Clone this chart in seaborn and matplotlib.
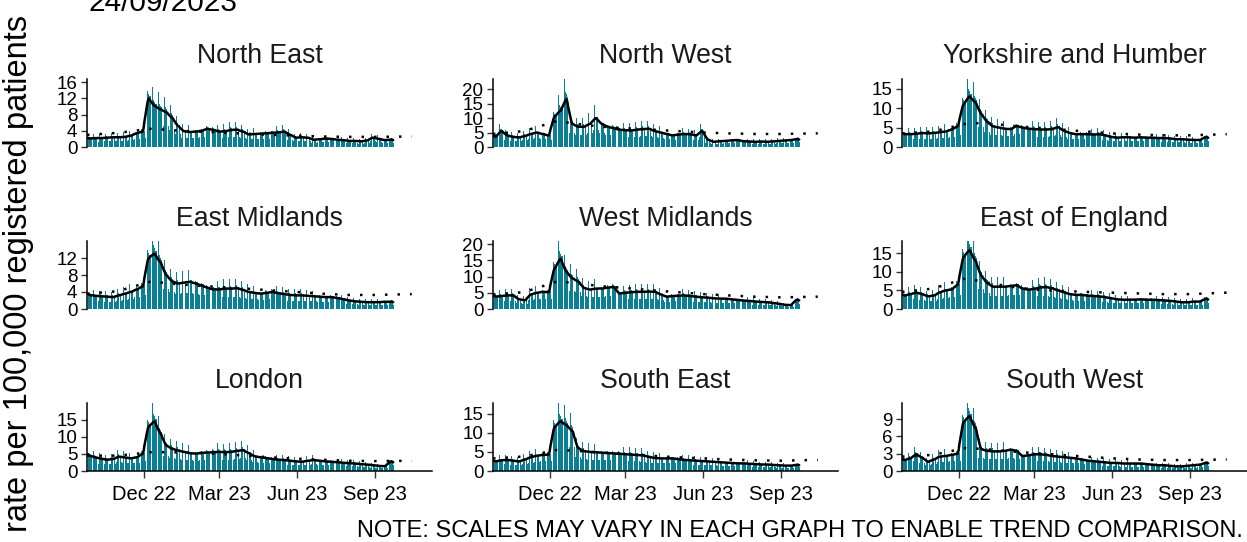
import numpy as np
import pandas as pd
import matplotlib
matplotlib.use("Agg")
import matplotlib.pyplot as plt
import matplotlib.dates as mdates
import seaborn as sns

sns.set_theme(style="white")
plt.rcParams["font.family"] = ["Liberation Sans", "DejaVu Sans"]

# ---------------------------------------------------------------------------
# Data: weekly average daily rate per 100,000 (weeks starting Sunday 25/09/2022)
# ---------------------------------------------------------------------------
regions = ["North East", "North West", "Yorkshire and Humber",
           "East Midlands", "West Midlands", "East of England",
           "London", "South East", "South West"]

weekly_north_east = [2.1, 2.2, 2.2, 2.3, 2.4, 2.4, 2.5, 2.8, 3.4, 3.8,
                     12.0, 10.2, 9.3, 8.6, 7.2, 5.2, 3.9, 3.7, 3.8, 4.0,
                     4.5, 4.2, 3.8, 3.9, 4.2, 4.3, 3.8, 3.1, 3.2, 3.3,
                     3.4, 3.5, 3.6, 3.8, 3.0, 2.3, 2.4, 2.3, 1.8, 1.9,
                     2.1, 2.0, 1.8, 1.7, 1.5, 1.5, 1.4, 1.6, 2.3, 2.0,
                     1.7, 1.8]
weekly_north_west = [3.5, 5.5, 4.0, 3.5, 3.3, 3.8, 4.5, 5.0, 4.5, 4.0,
                     10.5, 12.5, 16.5, 8.0, 7.0, 7.0, 8.0, 10.0, 8.0, 7.0,
                     6.5, 6.0, 5.8, 5.7, 6.0, 6.2, 6.3, 5.5, 5.0, 4.5,
                     4.0, 4.3, 4.5, 4.4, 4.0, 5.5, 2.5, 1.8, 2.0, 2.1,
                     2.3, 2.4, 2.0, 1.9, 1.8, 1.9, 1.8, 1.9, 2.1, 2.2,
                     2.4, 2.7]
weekly_yorkshire = [3.3, 3.3, 3.4, 3.6, 3.5, 3.6, 3.8, 4.0, 4.5, 5.3,
                    11.0, 13.0, 11.5, 8.5, 6.5, 5.3, 5.0, 4.7, 4.6, 5.4,
                    5.0, 4.7, 4.6, 4.5, 4.5, 4.6, 5.1, 4.2, 3.6, 3.3,
                    3.3, 3.3, 3.2, 3.3, 3.0, 2.6, 2.4, 2.5, 2.5, 2.4,
                    2.5, 2.4, 2.4, 2.3, 2.3, 2.2, 2.0, 2.0, 1.9, 1.8,
                    1.8, 2.5]
weekly_east_midlands = [3.3, 3.1, 3.0, 2.9, 2.8, 3.2, 3.6, 4.0, 4.6, 5.3,
                        12.0, 13.0, 11.0, 8.0, 6.5, 6.0, 6.2, 6.4, 6.0, 5.5,
                        5.0, 4.6, 4.6, 4.8, 4.8, 4.9, 4.5, 4.0, 3.8, 3.6,
                        3.8, 4.0, 3.7, 3.5, 3.3, 3.2, 3.2, 3.1, 3.0, 2.9,
                        2.8, 2.8, 2.6, 2.3, 2.0, 1.8, 1.7, 1.6, 1.6, 1.6,
                        1.7, 1.7]
weekly_west_midlands = [3.8, 4.0, 4.2, 4.2, 3.0, 2.7, 4.5, 5.0, 5.3, 5.2,
                        12.5, 15.5, 11.5, 9.5, 8.5, 6.5, 6.0, 6.3, 6.3, 6.6,
                        6.8, 4.8, 5.0, 5.2, 5.3, 5.3, 5.4, 5.3, 4.5, 3.8,
                        4.0, 4.1, 4.2, 4.0, 3.8, 3.6, 3.5, 3.3, 3.2, 3.2,
                        3.0, 2.8, 2.6, 2.5, 2.3, 2.2, 2.1, 1.9, 1.6, 1.3,
                        1.2, 2.8]
weekly_east_of_england = [3.6, 4.0, 4.4, 4.0, 3.4, 3.6, 4.5, 5.0, 5.3, 6.5,
                          14.0, 15.8, 13.0, 9.0, 7.0, 6.0, 6.0, 6.0, 6.2, 6.4,
                          5.5, 5.2, 5.4, 5.8, 5.9, 5.6, 5.0, 4.5, 4.0, 3.8,
                          3.8, 3.6, 3.5, 3.4, 3.2, 2.9, 2.6, 2.5, 2.5, 2.5,
                          2.6, 2.5, 2.5, 2.4, 2.3, 2.2, 2.0, 1.8, 1.8, 2.0,
                          2.0, 2.7]
weekly_london = [4.5, 4.0, 3.6, 3.3, 3.5, 4.2, 4.0, 3.7, 4.0, 5.0,
                 13.0, 14.5, 11.0, 7.5, 6.5, 6.0, 5.6, 5.2, 5.1, 5.3,
                 5.4, 5.5, 5.6, 5.5, 5.6, 5.9, 6.1, 5.2, 4.3, 4.0,
                 3.8, 3.5, 3.3, 3.2, 3.0, 2.8, 2.7, 3.0, 3.2, 3.0,
                 2.8, 2.7, 2.6, 2.4, 2.3, 2.2, 2.0, 1.9, 1.7, 1.5,
                 1.4, 2.7]
weekly_south_east = [2.5, 2.8, 2.9, 2.7, 2.5, 3.0, 3.6, 4.0, 4.2, 4.3,
                     11.5, 13.0, 12.0, 10.5, 6.0, 5.2, 5.0, 4.9, 4.8, 4.7,
                     4.6, 4.5, 4.4, 4.3, 4.2, 4.1, 3.7, 3.4, 3.3, 3.3,
                     3.3, 3.1, 2.9, 2.8, 2.7, 2.6, 2.5, 2.4, 2.3, 2.2,
                     2.1, 2.0, 2.0, 1.9, 1.8, 1.7, 1.7, 1.6, 1.5, 1.4,
                     1.4, 1.6]
weekly_south_west = [1.9, 2.2, 2.9, 2.3, 1.6, 2.0, 2.5, 2.6, 2.8, 3.0,
                     8.5, 9.5, 7.5, 3.8, 3.5, 3.4, 3.4, 3.5, 3.7, 3.5,
                     2.6, 2.7, 2.9, 2.9, 2.8, 2.6, 2.5, 2.4, 2.3, 2.2,
                     2.0, 1.8, 1.7, 1.6, 1.5, 1.4, 1.4, 1.3, 1.3, 1.3,
                     1.3, 1.2, 1.1, 1.0, 1.0, 0.9, 0.8, 0.8, 0.9, 1.0,
                     1.1, 1.4]

# relative level of each weekday (Mon..Sun), averaging to 1
weekday_profile = [1.45, 1.15, 1.10, 1.05, 1.05, 0.60, 0.60]

# baseline (dotted line), monthly points
baseline_dates = ["2022-09-25", "2022-11-01", "2022-12-10", "2023-01-01",
                  "2023-02-01", "2023-03-01", "2023-04-01", "2023-05-01",
                  "2023-06-01", "2023-07-01", "2023-08-01", "2023-09-01",
                  "2023-10-15"]
baseline_north_east = [3.0, 3.5, 4.5, 4.2, 3.8, 3.6, 3.3, 3.0, 2.8, 2.6, 2.5, 2.5, 2.6]
baseline_north_west = [4.5, 5.5, 9.0, 8.0, 7.0, 6.5, 6.0, 5.5, 5.0, 4.7, 4.5, 4.5, 4.7]
baseline_yorkshire = [3.5, 4.0, 6.0, 6.2, 5.5, 5.0, 4.5, 4.0, 3.5, 3.2, 3.0, 3.0, 3.3]
baseline_east_midlands = [3.6, 4.2, 6.5, 6.0, 5.5, 5.2, 4.8, 4.4, 4.0, 3.6, 3.3, 3.3, 3.5]
baseline_west_midlands = [4.5, 5.2, 8.5, 8.0, 7.0, 6.5, 5.8, 5.2, 4.6, 4.2, 3.8, 3.6, 3.8]
baseline_east_of_england = [4.6, 5.5, 8.3, 7.2, 6.0, 5.2, 4.9, 4.6, 4.4, 4.2, 4.0, 4.0, 4.4]
baseline_london = [4.5, 4.5, 5.5, 5.5, 5.3, 5.0, 4.5, 4.0, 3.6, 3.3, 3.0, 2.9, 3.0]
baseline_south_east = [3.3, 3.8, 5.5, 5.3, 4.8, 4.4, 4.0, 3.6, 3.3, 3.0, 2.8, 2.7, 2.9]
baseline_south_west = [2.5, 2.8, 4.0, 3.8, 3.4, 3.1, 2.8, 2.5, 2.2, 2.0, 1.9, 1.9, 2.0]

weekly = [weekly_north_east, weekly_north_west, weekly_yorkshire,
          weekly_east_midlands, weekly_west_midlands, weekly_east_of_england,
          weekly_london, weekly_south_east, weekly_south_west]
baselines = [baseline_north_east, baseline_north_west, baseline_yorkshire,
             baseline_east_midlands, baseline_west_midlands, baseline_east_of_england,
             baseline_london, baseline_south_east, baseline_south_west]

y_ticks = [[0, 4, 8, 12, 16], [0, 5, 10, 15, 20], [0, 5, 10, 15],
           [0, 4, 8, 12], [0, 5, 10, 15, 20], [0, 5, 10, 15],
           [0, 5, 10, 15], [0, 5, 10, 15], [0, 3, 6, 9]]
y_top = [16.8, 23.5, 17.5, 16.0, 21.0, 18.3, 19.9, 17.8, 11.8]

x_ticks = ["2022-12-01", "2023-03-01", "2023-06-01", "2023-09-01"]
report_date = "24/09/2023"

# ---------------------------------------------------------------------------
# Figure
# ---------------------------------------------------------------------------
W, H = 1247, 542
fig = plt.figure(figsize=(W / 100, H / 100), dpi=100)

bar_colour = "#0b7f93"
start = pd.Timestamp("2022-09-25")
x_min, x_max = pd.Timestamp("2022-09-25"), pd.Timestamp("2023-11-08")

col_left = [87, 493, 902]
panel_w = 345
row_top = [79, 241, 403]
panel_h = 68
title_base = [63, 225.5, 388]

for i, region in enumerate(regions):
    r, c = divmod(i, 3)
    ax = fig.add_axes([col_left[c] / W, 1 - (row_top[r] + panel_h) / H,
                       panel_w / W, panel_h / H])

    wk = np.asarray(weekly[i])
    days = pd.date_range(start, periods=len(wk) * 7, freq="D")
    prof = np.asarray(weekday_profile)[days.dayofweek]
    daily = np.repeat(wk, 7) * prof
    df = pd.DataFrame({"date": days, "rate": daily})
    df["avg"] = df["rate"].rolling(7, center=True, min_periods=4).mean()

    ax.bar(df["date"], df["rate"], width=0.8, color=bar_colour,
           linewidth=0, zorder=1)
    sns.lineplot(data=df, x="date", y="avg", ax=ax, color="black",
                 linewidth=1.8, zorder=3)
    bdf = pd.DataFrame({"date": pd.to_datetime(baseline_dates),
                        "base": baselines[i]})
    sns.lineplot(data=bdf, x="date", y="base", ax=ax, color="black",
                 linewidth=1.8, linestyle=(0, (1, 4)), zorder=2)

    ax.set_xlim(x_min, x_max)
    ax.set_ylim(0, y_top[i])
    ax.set_yticks(y_ticks[i])
    ax.set_yticklabels([str(t) for t in y_ticks[i]], fontsize=13.5)
    ax.set_xlabel("")
    ax.set_ylabel("")
    ax.set_facecolor("none")

    for s in ["top", "right"]:
        ax.spines[s].set_visible(False)
    ax.spines["left"].set_color("black")
    ax.spines["left"].set_linewidth(1.1)
    ax.tick_params(axis="y", left=True, length=4, width=1.0, color="#333333",
                   pad=3, labelcolor="black")

    xt = pd.to_datetime(x_ticks)
    if r == 2:
        ax.spines["bottom"].set_color("black")
        ax.spines["bottom"].set_linewidth(1.1)
        ax.set_xticks(xt)
        ax.xaxis.set_major_formatter(mdates.DateFormatter("%b %y"))
        ax.tick_params(axis="x", bottom=True, length=5, width=1.0,
                       color="#333333", labelsize=14.5, pad=5,
                       labelcolor="black")
    else:
        ax.spines["bottom"].set_visible(False)
        ax.set_xticks([])

    fig.text((col_left[c] + panel_w / 2) / W, 1 - title_base[r] / H, region,
             ha="center", va="baseline", fontsize=19.2, color="#1a1a1a")

fig.text(19 / W, 1 - 273 / H, "rate per 100,000 registered patients",
         rotation=90, ha="center", va="center", fontsize=23.5, color="black")
fig.text(88 / W, 1 - 11 / H, report_date, ha="left", va="baseline",
         fontsize=21.5, color="black")
fig.text(1243 / W, 1 - 537 / H,
         "NOTE: SCALES MAY VARY IN EACH GRAPH TO ENABLE TREND COMPARISON.",
         ha="right", va="baseline", fontsize=17, color="black")

fig.savefig("out.png", dpi=100)
